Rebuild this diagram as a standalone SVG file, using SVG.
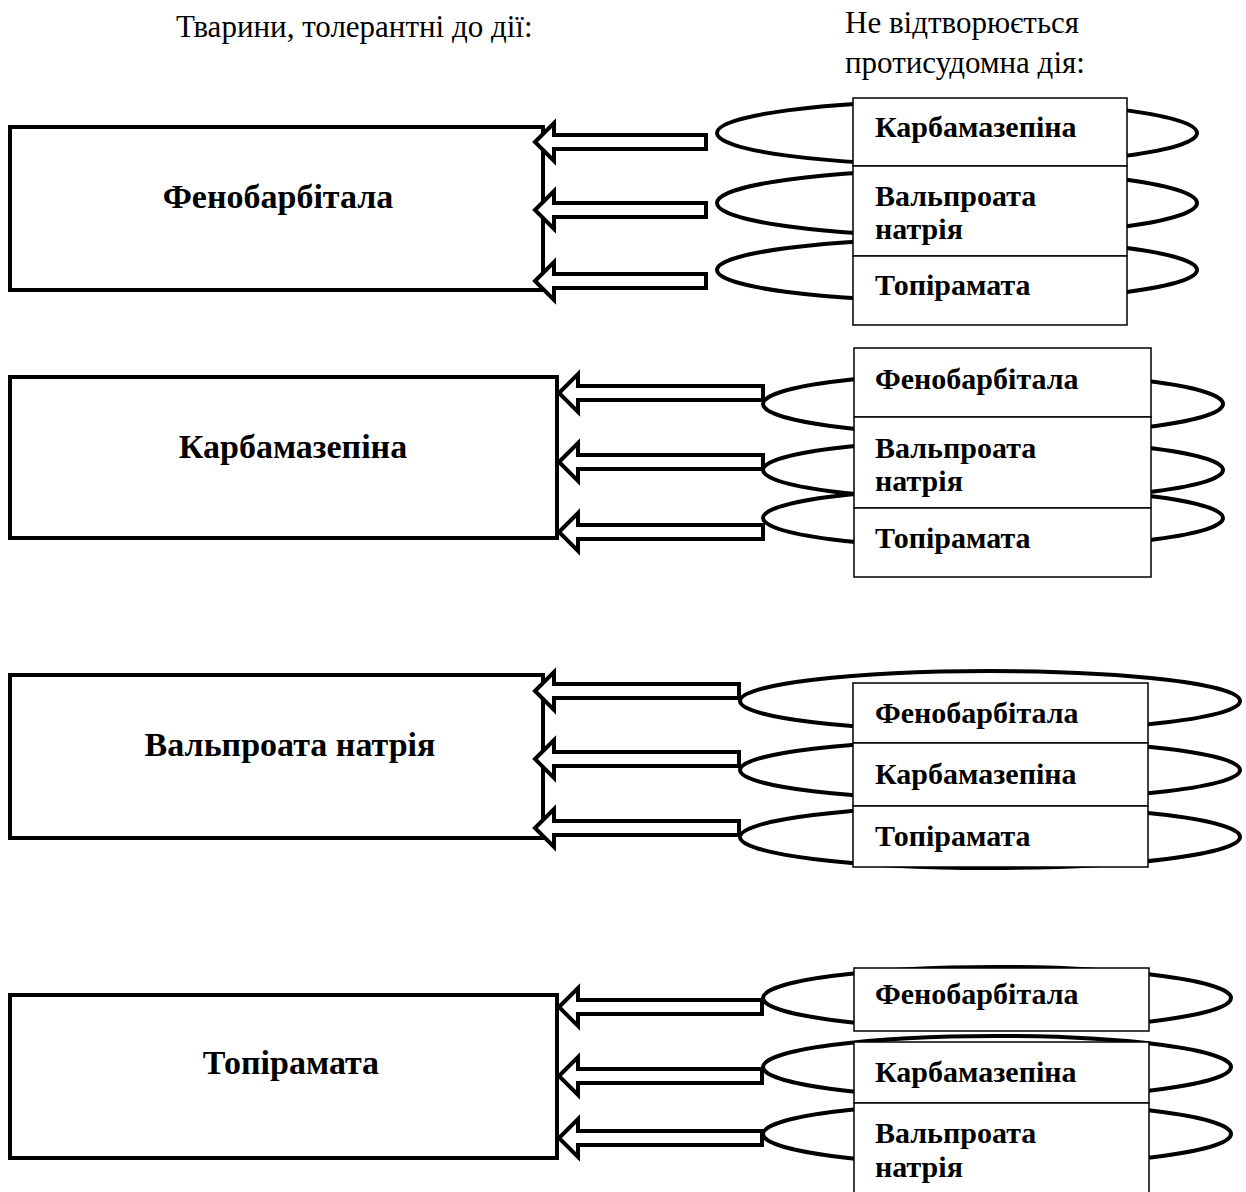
<svg xmlns="http://www.w3.org/2000/svg" width="1246" height="1192" viewBox="0 0 1246 1192">
<style>
.bg{fill:#fff}
.big{fill:#fff;stroke:#000;stroke-width:4}
.ring{fill:none;stroke:#000;stroke-width:4}
.cell{fill:#fff;stroke:#000;stroke-width:1.5}
.arrow{fill:#fff;stroke:#000;stroke-width:4;stroke-linejoin:miter}
.hdr{font-family:"Liberation Serif","Times New Roman",serif;font-size:31px;fill:#000}
.lbl{font-family:"Liberation Serif","Times New Roman",serif;font-weight:bold;font-size:30px;fill:#000}
.title{font-family:"Liberation Serif","Times New Roman",serif;font-weight:bold;font-size:34px;fill:#000;text-anchor:middle}
</style>
<rect class="bg" x="0" y="0" width="1246" height="1192"/>
<g id="headers">
<text class="hdr" x="176" y="37">Тварини, толерантні до дії:</text>
<text class="hdr" x="845" y="33">Не відтворюється</text>
<text class="hdr" x="845" y="73">протисудомна дія:</text>
</g>

<!-- Block 1 -->
<g id="node-fenobarbital">
<rect class="big" x="10" y="127" width="533" height="163"/>
<text class="title" x="278" y="208">Фенобарбітала</text>
</g>
<g id="rings-1">
<ellipse class="ring" cx="957" cy="133" rx="240" ry="32"/>
<ellipse class="ring" cx="957" cy="203" rx="240" ry="33"/>
<ellipse class="ring" cx="957" cy="270" rx="240" ry="31"/>
</g>
<g id="node-1-karbamazepin">
<rect class="cell" x="853" y="98" width="274" height="68"/>
<text class="lbl" x="875" y="137">Карбамазепіна</text>
</g>
<g id="node-1-valproat">
<rect class="cell" x="853" y="166" width="274" height="90"/>
<text class="lbl" x="875" y="206">Вальпроата</text>
<text class="lbl" x="875" y="239">натрія</text>
</g>
<g id="node-1-topiramat">
<rect class="cell" x="853" y="256" width="274" height="69"/>
<text class="lbl" x="875" y="295">Топірамата</text>
</g>

<!-- Block 2 -->
<g id="node-karbamazepin">
<rect class="big" x="10" y="377" width="547" height="161"/>
<text class="title" x="293" y="458">Карбамазепіна</text>
</g>
<g id="rings-2">
<ellipse class="ring" cx="993" cy="404" rx="230" ry="31"/>
<ellipse class="ring" cx="993" cy="470" rx="230" ry="30"/>
<ellipse class="ring" cx="993" cy="518" rx="230" ry="30"/>
</g>
<g id="node-2-fenobarbital">
<rect class="cell" x="854" y="348" width="297" height="69"/>
<text class="lbl" x="875" y="389">Фенобарбітала</text>
</g>
<g id="node-2-valproat">
<rect class="cell" x="854" y="417" width="297" height="91"/>
<text class="lbl" x="875" y="458">Вальпроата</text>
<text class="lbl" x="875" y="491">натрія</text>
</g>
<g id="node-2-topiramat">
<rect class="cell" x="854" y="508" width="297" height="69"/>
<text class="lbl" x="875" y="548">Топірамата</text>
</g>

<!-- Block 3 -->
<g id="node-valproat">
<rect class="big" x="10" y="675" width="533" height="163"/>
<text class="title" x="290" y="756">Вальпроата натрія</text>
</g>
<g id="rings-3">
<ellipse class="ring" cx="990" cy="701" rx="250" ry="30"/>
<ellipse class="ring" cx="990" cy="770" rx="250" ry="30"/>
<ellipse class="ring" cx="990" cy="837" rx="250" ry="31"/>
</g>
<g id="node-3-fenobarbital">
<rect class="cell" x="853" y="683" width="295" height="60"/>
<text class="lbl" x="875" y="723">Фенобарбітала</text>
</g>
<g id="node-3-karbamazepin">
<rect class="cell" x="853" y="743" width="295" height="63"/>
<text class="lbl" x="875" y="784">Карбамазепіна</text>
</g>
<g id="node-3-topiramat">
<rect class="cell" x="853" y="806" width="295" height="61"/>
<text class="lbl" x="875" y="846">Топірамата</text>
</g>

<!-- Block 4 -->
<g id="node-topiramat">
<rect class="big" x="10" y="995" width="547" height="163"/>
<text class="title" x="291" y="1074">Топірамата</text>
</g>
<g id="rings-4">
<ellipse class="ring" cx="997" cy="998" rx="234" ry="31"/>
<ellipse class="ring" cx="997" cy="1067" rx="234" ry="31"/>
<ellipse class="ring" cx="997" cy="1134" rx="234" ry="31"/>
</g>
<g id="node-4-fenobarbital">
<rect class="cell" x="854" y="968" width="295" height="63"/>
<text class="lbl" x="875" y="1004">Фенобарбітала</text>
</g>
<g id="node-4-karbamazepin">
<rect class="cell" x="854" y="1042" width="295" height="61"/>
<text class="lbl" x="875" y="1082">Карбамазепіна</text>
</g>
<g id="node-4-valproat">
<rect class="cell" x="854" y="1103" width="295" height="100"/>
<text class="lbl" x="875" y="1143">Вальпроата</text>
<text class="lbl" x="875" y="1177">натрія</text>
</g>

<g id="connectors">
<path class="arrow" d="M535,142 L554,123 L554,135 L706,135 L706,149 L554,149 L554,161 Z"/>
<path class="arrow" d="M535,210 L554,191 L554,203 L706,203 L706,217 L554,217 L554,229 Z"/>
<path class="arrow" d="M535,281 L554,262 L554,274 L706,274 L706,288 L554,288 L554,300 Z"/>
<path class="arrow" d="M559,393 L578,374 L578,386 L763,386 L763,400 L578,400 L578,412 Z"/>
<path class="arrow" d="M559,462 L578,443 L578,455 L763,455 L763,469 L578,469 L578,481 Z"/>
<path class="arrow" d="M559,532 L578,513 L578,525 L763,525 L763,539 L578,539 L578,551 Z"/>
<path class="arrow" d="M535,691 L554,672 L554,684 L739,684 L739,698 L554,698 L554,710 Z"/>
<path class="arrow" d="M535,759 L554,740 L554,752 L739,752 L739,766 L554,766 L554,778 Z"/>
<path class="arrow" d="M535,828 L554,809 L554,821 L739,821 L739,835 L554,835 L554,847 Z"/>
<path class="arrow" d="M559,1007 L578,988 L578,1000 L762,1000 L762,1014 L578,1014 L578,1026 Z"/>
<path class="arrow" d="M559,1076 L578,1057 L578,1069 L762,1069 L762,1083 L578,1083 L578,1095 Z"/>
<path class="arrow" d="M559,1138 L578,1119 L578,1131 L762,1131 L762,1145 L578,1145 L578,1157 Z"/>
</g>
</svg>
